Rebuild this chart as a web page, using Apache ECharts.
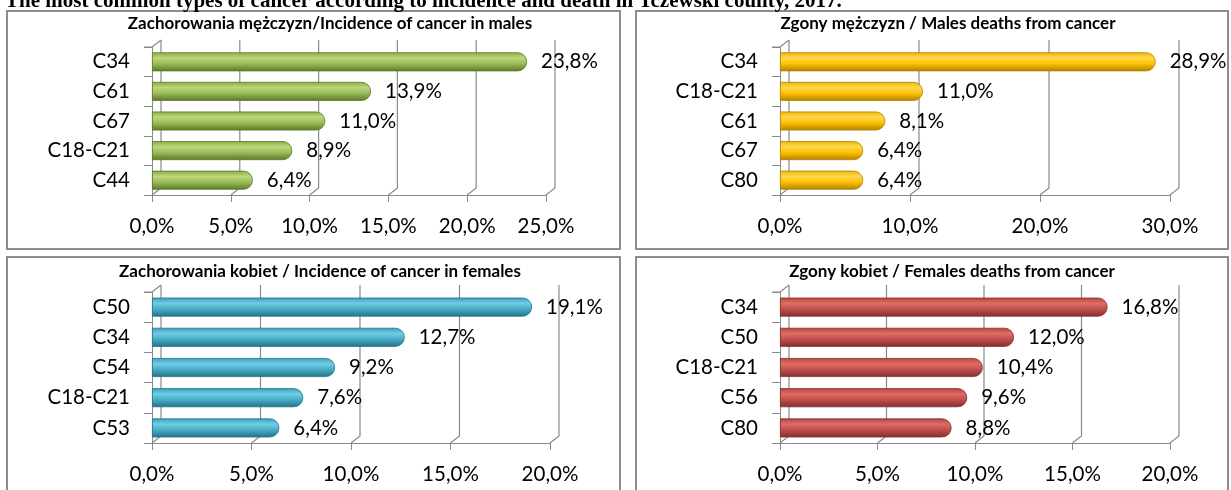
<!DOCTYPE html>
<html><head><meta charset="utf-8">
<script src="https://cdn.jsdelivr.net/npm/echarts@6/dist/echarts.min.js"></script>
<style>html,body{margin:0;padding:0;background:#fff}#c{width:1231px;height:490px}</style>
</head><body><div id="c"></div>
<script>
const pageTitle = 'The most common types of cancer according to incidence and death in Tczewski county, 2017.';

const titleMaleInc = 'Zachorowania mężczyzn/Incidence of cancer in males';
const catsMaleInc = ['C34', 'C61', 'C67', 'C18-C21', 'C44'];
const valsMaleInc = [23.8, 13.9, 11.0, 8.9, 6.4];
const ticksMaleInc = [0, 5, 10, 15, 20, 25];

const titleMaleDeath = 'Zgony mężczyzn / Males deaths from cancer';
const catsMaleDeath = ['C34', 'C18-C21', 'C61', 'C67', 'C80'];
const valsMaleDeath = [28.9, 11.0, 8.1, 6.4, 6.4];
const ticksMaleDeath = [0, 10, 20, 30];

const titleFemInc = 'Zachorowania kobiet / Incidence of cancer in females';
const catsFemInc = ['C50', 'C34', 'C54', 'C18-C21', 'C53'];
const valsFemInc = [19.1, 12.7, 9.2, 7.6, 6.4];
const ticksFemInc = [0, 5, 10, 15, 20];

const titleFemDeath = 'Zgony kobiet / Females deaths from cancer';
const catsFemDeath = ['C34', 'C50', 'C18-C21', 'C56', 'C80'];
const valsFemDeath = [16.8, 12.0, 10.4, 9.6, 8.8];
const ticksFemDeath = [0, 5, 10, 15, 20];

const FONT = 'Lato, "Liberation Sans", sans-serif';
const GRID_COLOR = '#8a8a8a';
const DX = 9, DY = 7;

const panels = [
  { title: titleMaleInc, cats: catsMaleInc, vals: valsMaleInc, ticks: ticksMaleInc,
    grid: { left: 152, top: 47, width: 394, height: 148 }, box: [7, 11, 613, 238], titlePos: [330, 24],
    colors: ['#88a943', '#bcd87a', '#9bbb59', '#5c7826'] },
  { title: titleMaleDeath, cats: catsMaleDeath, vals: valsMaleDeath, ticks: ticksMaleDeath,
    grid: { left: 780, top: 47, width: 390, height: 148 }, box: [636, 11, 592, 238], titlePos: [948, 24],
    colors: ['#f0b400', '#ffd84f', '#ffc000', '#b08300'] },
  { title: titleFemInc, cats: catsFemInc, vals: valsFemInc, ticks: ticksFemInc,
    grid: { left: 152, top: 292, width: 398, height: 151 }, box: [7, 257, 613, 245], titlePos: [320, 272],
    colors: ['#3c9db8', '#6fcde6', '#4bacc6', '#227189'] },
  { title: titleFemDeath, cats: catsFemDeath, vals: valsFemDeath, ticks: ticksFemDeath,
    grid: { left: 780, top: 292, width: 390, height: 151 }, box: [636, 257, 592, 245], titlePos: [952, 272],
    colors: ['#b6423e', '#e06c68', '#c0504d', '#822e2b'] }
];

const fmt = v => v.toFixed(1).replace('.', ',') + '%';

const option = {
  animation: false,
  backgroundColor: '#fff',
  grid: [], xAxis: [], yAxis: [], series: [], graphic: []
};

option.graphic.push({
  type: 'text', left: 5, top: -9, z: 100,
  style: { text: pageTitle, font: 'bold 21px "Liberation Serif", "Times New Roman", serif', fill: '#000' }
});

panels.forEach((p, i) => {
  option.graphic.push({
    type: 'rect', shape: { x: p.box[0], y: p.box[1], width: p.box[2], height: p.box[3] },
    style: { fill: 'none', stroke: '#8c8c8c', lineWidth: 2 }, z: 1
  });
  option.graphic.push({
    type: 'text', x: p.titlePos[0], y: p.titlePos[1], z: 100,
    style: { text: p.title, font: 'bold 17px ' + FONT, fill: '#000', align: 'center', verticalAlign: 'middle' }
  });
  const max = p.ticks[p.ticks.length - 1];
  const step = p.ticks[1] - p.ticks[0];
  option.grid.push(Object.assign({ containLabel: false }, p.grid));
  option.xAxis.push({
    type: 'value', gridIndex: i, min: p.ticks[0], max: max, interval: step,
    axisLine: { show: true, lineStyle: { color: GRID_COLOR, width: 1 } },
    axisTick: { show: true, length: 7, lineStyle: { color: GRID_COLOR } },
    splitLine: { show: false },
    axisLabel: { margin: 21, color: '#000', fontFamily: FONT, fontSize: 20.5, formatter: fmt }
  });
  option.yAxis.push({
    type: 'category', gridIndex: i, data: p.cats, inverse: true,
    axisLine: { show: true, lineStyle: { color: GRID_COLOR, width: 1 } },
    axisTick: { show: true, length: 8, lineStyle: { color: GRID_COLOR } },
    axisLabel: { margin: 22, color: '#000', fontFamily: FONT, fontSize: 20.5 }
  });
  // 3D-like frame: back wall verticals and floor slants
  option.series.push({
    type: 'custom', xAxisIndex: i, yAxisIndex: i, z: 1, silent: true,
    data: p.ticks.map(t => [t]),
    renderItem: function (params, api) {
      const cs = params.coordSys;
      const x = api.coord([api.value(0), 0])[0];
      const top = cs.y, bottom = cs.y + cs.height;
      const children = [{
        type: 'polyline',
        shape: { points: [[x, bottom], [x + DX, bottom - DY], [x + DX, top - DY]] },
        style: { stroke: GRID_COLOR, lineWidth: 1.2, fill: null }
      }];
      if (params.dataIndex === 0) {
        children.push({
          type: 'polyline',
          shape: { points: [[x - 8, top], [x, top], [x + DX, top - DY]] },
          style: { stroke: GRID_COLOR, lineWidth: 1.2, fill: null }
        });
      }
      return { type: 'group', children: children };
    }
  });
  option.series.push({
    type: 'bar', xAxisIndex: i, yAxisIndex: i, z: 3,
    data: p.vals, barWidth: 19,
    itemStyle: {
      borderRadius: [0, 9, 9, 0],
      borderColor: p.colors[3], borderWidth: 0.8,
      color: new echarts.graphic.LinearGradient(0, 0, 0, 1, [
        { offset: 0, color: p.colors[0] },
        { offset: 0.3, color: p.colors[1] },
        { offset: 0.6, color: p.colors[2] },
        { offset: 1, color: p.colors[3] }
      ])
    },
    label: {
      show: true, position: 'right', distance: 14, color: '#000',
      fontFamily: FONT, fontSize: 20.5, formatter: pr => fmt(pr.value)
    }
  });
});

const chart = echarts.init(document.getElementById('c'), null, { renderer: 'canvas' });
chart.setOption(option);
</script>
</body></html>
